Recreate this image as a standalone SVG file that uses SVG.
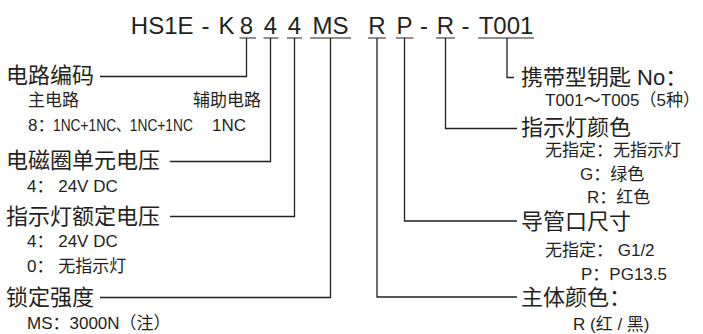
<svg xmlns="http://www.w3.org/2000/svg" width="703" height="334" viewBox="0 0 703 334">
<style>
.h{font-family:"Liberation Sans","Noto Sans CJK SC",sans-serif;font-size:24px;fill:#231f20;text-anchor:middle}
.m{font-family:"Liberation Sans","Noto Sans CJK SC",sans-serif;font-size:22px;fill:#231f20}
.s{font-family:"Liberation Sans","Noto Sans CJK SC",sans-serif;font-size:17px;fill:#231f20}
.u{stroke:#231f20;stroke-width:1.2;fill:none}
.c{stroke:#231f20;stroke-width:1.3;fill:none}
</style>
<rect width="703" height="334" fill="#ffffff"/>
<g id="model">
<text class="h" x="193.5" y="33.5" style="text-anchor:end">HS1E</text>
<text class="h" x="205.5" y="33.5">-</text>
<text class="h" x="226.5" y="33.5">K</text>
<text class="h" x="246.5" y="33.5">8</text>
<text class="h" x="270.5" y="33.5">4</text>
<text class="h" x="294.5" y="33.5">4</text>
<text class="h" x="330.5" y="33.5">MS</text>
<text class="h" x="377" y="33.5">R</text>
<text class="h" x="404.5" y="33.5">P</text>
<text class="h" x="424" y="33.5">-</text>
<text class="h" x="445.5" y="33.5">R</text>
<text class="h" x="465.5" y="33.5">-</text>
<text class="h" x="506" y="33.5">T001</text>
<path class="u" d="M239.5,38H256M263.5,38H278.5M287,38H302M310,38H351M368,38H386M396,38H413.5M436,38H455M478,38H534"/>
</g>
<g id="connectors">
<path class="c" d="M246.5,38V76.5H100"/>
<path class="c" d="M270.5,38V161.5H170"/>
<path class="c" d="M294.5,38V216.5H170"/>
<path class="c" d="M330.5,38V297.5H100"/>
<path class="c" d="M377,38V297H517"/>
<path class="c" d="M404.5,38V221H517"/>
<path class="c" d="M445.5,38V128.5H517"/>
<path class="c" d="M507,38V77.5H514"/>
</g>
<g id="circuit">
<text class="m" x="6" y="83">电路编码</text>
<text class="s" x="28" y="106">主电路</text>
<text class="s" x="193" y="106">辅助电路</text>
<text class="s" x="28" y="131">8：</text>
<text class="s" transform="translate(53,131) scale(0.81,1)">1NC+1NC、1NC+1NC</text>
<text class="s" x="212" y="131">1NC</text>
</g>
<g id="coil">
<text class="m" x="6" y="168">电磁圈单元电压</text>
<text class="s" x="27" y="192">4： 24V DC</text>
</g>
<g id="lamp-voltage">
<text class="m" x="6" y="224">指示灯额定电压</text>
<text class="s" x="27" y="247">4： 24V DC</text>
<text class="s" x="27" y="272">0： 无指示灯</text>
</g>
<g id="lock">
<text class="m" x="6" y="305">锁定强度</text>
<text class="s" x="27" y="329">MS：3000N（注）</text>
</g>
<g id="key">
<text class="m" x="521" y="85">携带型钥匙 No：</text>
<text class="s" x="545" y="106">T001～T005（5种）</text>
</g>
<g id="lamp-color">
<text class="m" x="521" y="135">指示灯颜色</text>
<text class="s" x="545" y="156">无指定：无指示灯</text>
<text class="s" x="580" y="180">G：绿色</text>
<text class="s" x="587" y="203">R：红色</text>
</g>
<g id="conduit">
<text class="m" x="521" y="229">导管口尺寸</text>
<text class="s" x="545" y="256">无指定： G1/2</text>
<text class="s" x="581" y="280">P：PG13.5</text>
</g>
<g id="body-color">
<text class="m" x="521" y="305">主体颜色：</text>
<text class="s" x="573" y="330">R (红 / 黑)</text>
</g>
</svg>
